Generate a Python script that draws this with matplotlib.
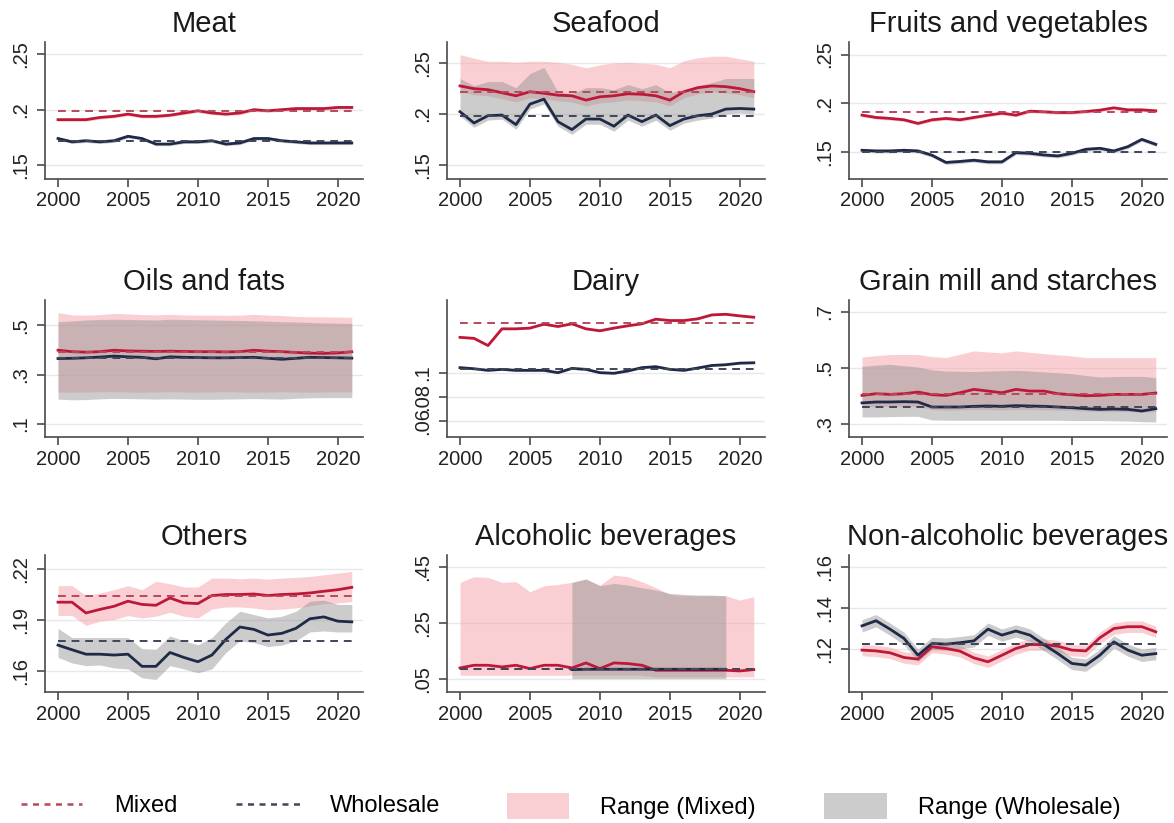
import matplotlib
matplotlib.use("Agg")
import matplotlib.pyplot as plt
from matplotlib.lines import Line2D
from matplotlib.patches import Patch

# Share of ... by food category, mixed vs wholesale markets, 2000-2021

plt.rcParams['font.family'] = ['Liberation Sans', 'DejaVu Sans']

years = list(range(2000, 2022))
alc_years = list(range(2008, 2020))
xticks = [2000, 2005, 2010, 2015, 2020]

# ---- Meat
meat_mix = [.191, .191, .191, .193, .194, .196, .194, .194, .195, .197, .199, .197, .196, .197, .200, .199, .200, .201, .201, .201, .202, .202]
meat_mix_lo = [.1895, .1895, .1895, .1915, .1925, .1945, .1925, .1925, .1935, .1955, .1975, .1955, .1945, .1955, .1985, .1975, .1985, .1995, .1995, .1995, .2005, .2005]
meat_mix_hi = [.1925, .1925, .1925, .1945, .1955, .1975, .1955, .1955, .1965, .1985, .2005, .1985, .1975, .1985, .2015, .2005, .2015, .2025, .2025, .2025, .2035, .2035]
meat_whl = [.174, .171, .172, .171, .172, .176, .174, .169, .169, .171, .171, .172, .169, .170, .174, .174, .172, .171, .170, .170, .170, .170]
meat_whl_lo = [.1725, .1695, .1705, .1695, .1705, .1745, .1725, .1675, .1675, .1695, .1695, .1705, .1675, .1685, .1725, .1725, .1705, .1695, .1685, .1685, .1685, .1685]
meat_whl_hi = [.1755, .1725, .1735, .1725, .1735, .1775, .1755, .1705, .1705, .1725, .1725, .1735, .1705, .1715, .1755, .1755, .1735, .1725, .1715, .1715, .1715, .1715]
meat_means = [.199, .1715]

# ---- Seafood
sea_mix = [.2277, .225, .224, .221, .218, .222, .2205, .2186, .218, .2137, .217, .218, .220, .2195, .218, .2137, .222, .226, .2277, .227, .225, .222]
sea_mix_lo = [.222, .219, .218, .215, .212, .216, .215, .213, .212, .208, .211, .212, .214, .213, .212, .208, .216, .220, .222, .221, .219, .216]
sea_mix_hi = [.2586, .255, .252, .252, .251, .252, .252, .251, .249, .2456, .2485, .2505, .251, .250, .249, .2456, .2525, .2554, .257, .257, .2545, .252]
sea_whl = [.2023, .1912, .1984, .199, .1896, .2098, .2147, .1925, .1847, .1951, .1951, .188, .199, .1925, .199, .1886, .1951, .1984, .200, .2049, .2055, .2049]
sea_whl_lo = [.198, .187, .194, .195, .185, .205, .210, .188, .180, .190, .190, .183, .194, .188, .194, .184, .191, .194, .196, .200, .201, .200]
sea_whl_hi = [.235, .228, .232, .232, .226, .240, .246, .222, .220, .226, .226, .224, .229, .225, .229, .221, .224, .228, .231, .235, .235, .235]
sea_means = [.222, .1977]

# ---- Fruits and vegetables
fv_mix = [.1878, .1854, .1844, .183, .1793, .183, .1844, .183, .1854, .1878, .1898, .1878, .1919, .1912, .1905, .1905, .1915, .1929, .1953, .1932, .1932, .1922]
fv_mix_lo = [.1860, .1836, .1826, .1812, .1775, .1812, .1826, .1812, .1836, .1860, .1880, .1860, .1901, .1894, .1887, .1887, .1897, .1911, .1935, .1914, .1914, .1904]
fv_mix_hi = [.1896, .1872, .1862, .1848, .1811, .1848, .1862, .1848, .1872, .1896, .1916, .1896, .1937, .1930, .1923, .1923, .1933, .1947, .1971, .1950, .1950, .1940]
fv_whl = [.1517, .151, .151, .1517, .151, .1466, .1392, .1402, .1415, .1398, .1398, .1493, .1486, .1469, .1459, .1486, .1527, .1537, .151, .1554, .1629, .1578]
fv_whl_lo = [.1497, .1490, .1490, .1497, .1490, .1446, .1372, .1382, .1395, .1378, .1378, .1473, .1466, .1449, .1439, .1466, .1507, .1517, .1490, .1534, .1609, .1558]
fv_whl_hi = [.1537, .1530, .1530, .1537, .1530, .1486, .1412, .1422, .1435, .1418, .1418, .1513, .1506, .1489, .1479, .1506, .1547, .1557, .1530, .1574, .1649, .1598]
fv_means = [.1905, .150]

# ---- Oils and fats
oil_mix = [.399, .393, .391, .393, .399, .396, .395, .394, .395, .394, .393, .393, .392, .393, .399, .395, .393, .390, .387, .386, .388, .3925]
oil_mix_lo = [.229, .228, .229, .230, .230, .229, .228, .229, .230, .229, .228, .229, .230, .229, .228, .229, .230, .229, .228, .229, .229, .229]
oil_mix_hi = [.552, .543, .542, .544, .549, .547, .544, .543, .545, .543, .542, .542, .541, .542, .545, .542, .540, .537, .535, .535, .534, .533]
oil_whl = [.365, .366, .368, .371, .375, .372, .370, .364, .372, .370, .369, .368, .368, .369, .370, .366, .362, .366, .370, .369, .368, .3667]
oil_whl_lo = [.200, .197, .198, .201, .203, .202, .201, .200, .201, .200, .199, .199, .200, .201, .202, .201, .200, .203, .205, .206, .206, .206]
oil_whl_hi = [.515, .518, .522, .524, .525, .524, .523, .522, .525, .524, .523, .522, .521, .520, .519, .517, .515, .514, .512, .510, .509, .508]
oil_means = [.3925, .367]

# ---- Dairy
dai_mix = [.1289, .1281, .1222, .1359, .1359, .1365, .1397, .1378, .1400, .1359, .1343, .1365, .1384, .1400, .1438, .1427, .1427, .1441, .1473, .1478, .1465, .1454]
dai_mix_lo = [.1281, .1273, .1214, .1351, .1351, .1357, .1389, .1370, .1392, .1351, .1335, .1357, .1376, .1392, .1430, .1419, .1419, .1433, .1465, .1470, .1457, .1446]
dai_mix_hi = [.1297, .1289, .1230, .1367, .1367, .1373, .1405, .1386, .1408, .1367, .1351, .1373, .1392, .1408, .1446, .1435, .1435, .1449, .1481, .1486, .1473, .1462]
dai_whl = [.1041, .1032, .1019, .1027, .1019, .1019, .1019, .1000, .1035, .1027, .1000, .0995, .1014, .1041, .1049, .1027, .1019, .1038, .1059, .1065, .1078, .1081]
dai_whl_lo = [.1033, .1024, .1011, .1019, .1011, .1011, .1011, .0992, .1027, .1019, .0992, .0987, .1006, .1033, .1041, .1019, .1011, .1030, .1051, .1057, .1070, .1073]
dai_whl_hi = [.1049, .1040, .1027, .1035, .1027, .1027, .1027, .1008, .1043, .1035, .1008, .1003, .1022, .1049, .1057, .1035, .1027, .1046, .1067, .1073, .1086, .1089]
dai_means = [.1405, .1032]

# ---- Grain mill and starches
gr_mix = [.4009, .4069, .4045, .4069, .4128, .4033, .4009, .4104, .4224, .4164, .4104, .4224, .4164, .4164, .4069, .4033, .3997, .4009, .4045, .4045, .4045, .4093]
gr_mix_lo = [.360, .362, .362, .362, .362, .350, .348, .349, .350, .350, .349, .350, .350, .349, .348, .347, .345, .343, .343, .343, .340, .343]
gr_mix_hi = [.538, .543, .547, .547, .547, .540, .536, .548, .560, .556, .553, .560, .555, .550, .546, .542, .536, .536, .536, .536, .536, .536]
gr_whl = [.374, .3773, .3773, .3785, .3773, .3594, .3594, .3594, .3618, .363, .3618, .3642, .363, .3618, .3594, .357, .3534, .351, .3522, .351, .3451, .3534]
gr_whl_lo = [.3239, .324, .325, .326, .326, .313, .312, .312, .312, .312, .312, .312, .312, .312, .312, .311, .311, .311, .310, .309, .307, .306]
gr_whl_hi = [.5048, .509, .512, .507, .5024, .492, .4881, .487, .486, .488, .489, .4905, .488, .485, .482, .4785, .472, .4666, .468, .469, .469, .4642]
gr_means = [.4069, .3594]

# ---- Others
oth_mix = [.2005, .2005, .1942, .1963, .1981, .2011, .1992, .1987, .2030, .2001, .1997, .2044, .2050, .2050, .2053, .2044, .2050, .2053, .2059, .2069, .2078, .2092]
oth_mix_lo = [.1927, .1927, .1869, .1894, .1904, .1927, .1913, .1923, .1946, .1923, .1913, .1965, .1977, .1977, .1971, .1961, .1965, .1971, .1984, .1996, .2000, .2009]
oth_mix_hi = [.2102, .2102, .2044, .2059, .2078, .2102, .2078, .2127, .2113, .2094, .2094, .2146, .2146, .2142, .2146, .2140, .2146, .2150, .2156, .2165, .2175, .2185]
oth_whl = [.1754, .1727, .1701, .1701, .1696, .1701, .1630, .1630, .1711, .1682, .1657, .1696, .1788, .1860, .1846, .1813, .1823, .1852, .1908, .1919, .1894, .1890]
oth_whl_lo = [.1682, .1650, .1634, .1638, .1621, .1615, .1563, .1553, .1634, .1615, .1592, .1615, .1711, .1779, .1769, .1746, .1754, .1779, .1831, .1837, .1831, .1831]
oth_whl_hi = [.1852, .1798, .1798, .1798, .1798, .1798, .1734, .1730, .1808, .1779, .1756, .1798, .1885, .1952, .1933, .1913, .1923, .1952, .2011, .2017, .1992, .1992]
oth_means = [.2044, .1779]

# ---- Alcoholic beverages (wholesale only 2008-2019)
alc_mix = [.0882, .0978, .0978, .0918, .0978, .0858, .0978, .0978, .0882, .1061, .0858, .1061, .1037, .0978, .0799, .0799, .0799, .0799, .0799, .0799, .0775, .0822]
alc_mix_lo = [.062, .062, .062, .062, .062, .062, .062, .062, .062, .062, .062, .062, .062, .062, .056, .056, .056, .056, .056, .056, .056, .056]
alc_mix_hi = [.3939, .4142, .4118, .3939, .3963, .3604, .3819, .3867, .3939, .4058, .3843, .4201, .4142, .3963, .3748, .3510, .3461, .3461, .3461, .3461, .3306, .3425]
alc_whl = [.0822, .0835, .0835, .0835, .0835, .0835, .0835, .0835, .0835, .0835, .0835, .0835]
alc_whl_lo = [.050, .050, .050, .050, .050, .050, .050, .050, .050, .050, .050, .050]
alc_whl_hi = [.3939, .4058, .3819, .3903, .3843, .3748, .3664, .3545, .3510, .3485, .3485, .3461]
alc_means = [.0858, .083]

# ---- Non-alcoholic beverages
na_mix = [.1197, .1193, .1184, .1161, .1153, .1213, .1205, .1192, .1159, .1140, .1172, .1205, .1224, .1224, .1216, .1197, .1193, .1257, .1302, .1311, .1311, .1286]
na_mix_lo = [.1169, .1165, .1156, .1133, .1125, .1185, .1177, .1164, .1131, .1112, .1144, .1177, .1196, .1196, .1188, .1169, .1165, .1229, .1274, .1283, .1283, .1258]
na_mix_hi = [.1225, .1221, .1212, .1189, .1181, .1241, .1233, .1220, .1187, .1168, .1200, .1233, .1252, .1252, .1244, .1225, .1221, .1285, .1330, .1339, .1339, .1314]
na_whl = [.1315, .1340, .1299, .1254, .1172, .1229, .1226, .1233, .1242, .1299, .1270, .1290, .1270, .1224, .1180, .1132, .1124, .1172, .1237, .1197, .1172, .1180]
na_whl_lo = [.1285, .1310, .1269, .1224, .1142, .1199, .1196, .1203, .1212, .1269, .1240, .1260, .1240, .1194, .1150, .1102, .1094, .1142, .1207, .1167, .1142, .1150]
na_whl_hi = [.1345, .1370, .1329, .1284, .1202, .1259, .1256, .1263, .1272, .1329, .1300, .1320, .1300, .1254, .1210, .1162, .1154, .1202, .1267, .1227, .1202, .1210]
na_means = [.1229, .1229]

panels = [
    ('Meat', meat_mix, meat_mix_lo, meat_mix_hi, years, meat_whl, meat_whl_lo, meat_whl_hi, meat_means, [.15, .2, .25], (.1375, .261)),
    ('Seafood', sea_mix, sea_mix_lo, sea_mix_hi, years, sea_whl, sea_whl_lo, sea_whl_hi, sea_means, [.15, .2, .25], (.136, .271)),
    ('Fruits and vegetables', fv_mix, fv_mix_lo, fv_mix_hi, years, fv_whl, fv_whl_lo, fv_whl_hi, fv_means, [.15, .2, .25], (.1222, .2629)),
    ('Oils and fats', oil_mix, oil_mix_lo, oil_mix_hi, years, oil_whl, oil_whl_lo, oil_whl_hi, oil_means, [.1, .3, .5], (.0456, .6034)),
    ('Dairy', dai_mix, dai_mix_lo, dai_mix_hi, years, dai_whl, dai_whl_lo, dai_whl_hi, dai_means, [.06, .08, .1], (.0473, .1595)),
    ('Grain mill and starches', gr_mix, gr_mix_lo, gr_mix_hi, years, gr_whl, gr_whl_lo, gr_whl_hi, gr_means, [.3, .5, .7], (.2522, .7418)),
    ('Others', oth_mix, oth_mix_lo, oth_mix_hi, years, oth_whl, oth_whl_lo, oth_whl_hi, oth_means, [.16, .19, .22], (.148, .2281)),
    ('Alcoholic beverages', alc_mix, alc_mix_lo, alc_mix_hi, alc_years, alc_whl, alc_whl_lo, alc_whl_hi, alc_means, [.05, .25, .45], (.0022, .4918)),
    ('Non-alcoholic beverages', na_mix, na_mix_lo, na_mix_hi, years, na_whl, na_whl_lo, na_whl_hi, na_means, [.12, .14, .16], (.0993, .166)),
]

RED = '#BE1838'
NAVY = '#1E2A48'
RED_DASH = '#B8485C'
NAVY_DASH = '#3E4658'
PINK = '#F7A1A8'
GREY = '#8F8F8F'
AXC = '#4A4A4A'


def stata_label(v):
    s = f"{v:g}"
    return s[1:] if s.startswith('0.') else s


W, H = 1174, 823
fig = plt.figure(figsize=(W / 100, H / 100), dpi=100)

col_x = [45, 447, 849]
row_top = [42, 300, 555]
ax_w, ax_h = 318, 137

for i, p in enumerate(panels):
    title, mix, mlo, mhi, wyears, whl, wlo, whi, means, ticks, ylim = p
    r, c = divmod(i, 3)
    ax = fig.add_axes([col_x[c] / W, 1 - (row_top[r] + ax_h) / H, ax_w / W, ax_h / H])

    ax.fill_between(years, mlo, mhi, color=PINK, alpha=0.5, lw=0, zorder=1)
    ax.fill_between(wyears, wlo, whi, color=GREY, alpha=0.45, lw=0, zorder=2)
    ax.plot(years, mix, color=RED, lw=2.0, zorder=4, solid_joinstyle='round')
    ax.plot(wyears, whl, color=NAVY, lw=2.0, zorder=4, solid_joinstyle='round')
    ax.plot(years, [means[0]] * len(years), color=RED_DASH, lw=1.4, dashes=(4, 3), zorder=5)
    ax.plot(years, [means[1]] * len(years), color=NAVY_DASH, lw=1.4, dashes=(4, 3), zorder=5)

    ax.set_xlim(1999.07, 2021.8)
    ax.set_ylim(*ylim)
    ax.set_xticks(xticks)
    ax.set_yticks(ticks)
    ax.set_yticklabels([stata_label(t) for t in ticks], rotation=90, va='center')
    ax.yaxis.grid(True, color='#E8E8E8', lw=1.0)
    ax.set_axisbelow(True)

    for s in ['top', 'right']:
        ax.spines[s].set_visible(False)
    for s in ['left', 'bottom']:
        ax.spines[s].set_color(AXC)
        ax.spines[s].set_linewidth(1.2)
    ax.tick_params(axis='both', direction='out', length=6, width=1.2, color=AXC,
                   labelcolor='#222222', labelsize=14.5)
    ax.tick_params(axis='y', pad=5)
    ax.tick_params(axis='x', pad=3)

    ax.set_title(title, fontsize=21, color='#1A1A1A', pad=7)

# legend, one entry per block so each key can have its own size
ly = 1 - 806 / H
entries = [
    (Line2D([], [], color=RED_DASH, lw=1.8, dashes=(2.4, 2.2)), 'Mixed', 21, 2.6, 0.7, 1.35),
    (Line2D([], [], color=NAVY_DASH, lw=1.8, dashes=(2.4, 2.2)), 'Wholesale', 236, 2.7, 0.7, 1.27),
    (Patch(facecolor=PINK, alpha=0.5, lw=0), 'Range (Mixed)', 507, 2.63, 1.3, 1.3),
    (Patch(facecolor=GREY, alpha=0.45, lw=0), 'Range (Wholesale)', 824, 2.67, 1.3, 1.3),
]
for handle, label, x0, hl, hh, tp in entries:
    fig.legend([handle], [label], loc='center left', bbox_to_anchor=(x0 / W, ly),
               frameon=False, borderpad=0, borderaxespad=0, handlelength=hl,
               handleheight=hh, handletextpad=tp, fontsize=17)

fig.savefig('out.png', dpi=100, facecolor='white')
